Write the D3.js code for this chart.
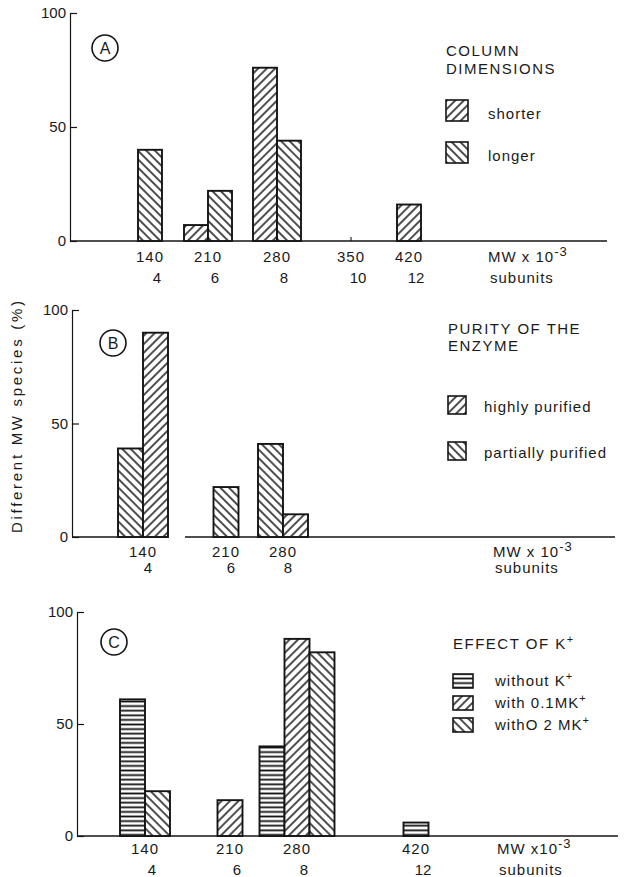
<!DOCTYPE html>
<html>
<head>
<meta charset="utf-8">
<script src="https://cdn.jsdelivr.net/npm/d3@7"></script>
<style>
  body { margin: 0; background: #fff; }
  svg text { font-family: "Liberation Sans", Arial, sans-serif; fill: #1a1a1a; }
</style>
</head>
<body>
<svg id="fig" width="631" height="877"></svg>
<script>
// ---- data ----
// panel A: column dimensions
const mwA = [140, 210, 280, 350, 420];
const subA = [4, 6, 8, 10, 12];
const shorterA = [0, 7, 76, 0, 16];
const longerA = [40, 22, 44, 0, 0];

// panel B: purity of the enzyme
const mwB = [140, 210, 280];
const subB = [4, 6, 8];
const partialB = [39, 22, 41];
const highlyB = [90, 0, 10];

// panel C: effect of K+
const mwC = [140, 210, 280, 420];
const subC = [4, 6, 8, 12];
const withoutK = [61, 0, 40, 6];
const with01K = [0, 16, 88, 0];
const with02K = [20, 0, 82, 0];

const yTicks = [0, 50, 100];

const svg = d3.select("#fig");
const ink = "#141414";

// hatch fills
const defs = svg.append("defs");
function hatch(id, angle, gap, w) {
    const p = defs.append("pattern")
        .attr("id", id)
        .attr("patternUnits", "userSpaceOnUse")
        .attr("width", gap).attr("height", gap)
        .attr("patternTransform", `rotate(${angle})`);
    p.append("rect").attr("width", gap).attr("height", gap).attr("fill", "#fff");
    p.append("line")
        .attr("x1", gap / 2).attr("y1", 0).attr("x2", gap / 2).attr("y2", gap)
        .attr("stroke", ink).attr("stroke-width", w);
}
hatch("fwd", 45, 6, 1.5);     // "////"
hatch("back", -45, 6, 1.5);   // "\\\\"
hatch("horiz", 90, 4.6, 1.8); // "===="

/**
 * Draws one panel: axes, grouped hatched bars, labels and legend
 * @param {object} cfg panel settings + series
 */
function drawPanel(cfg) {
    const y = d3.scaleLinear().domain([0, 100]).range([cfg.y0, cfg.y100]);
    // hand drawn axis, categories are not evenly spaced
    const x = d3.scaleLinear().domain(cfg.mw).range(cfg.xs);
    const g = svg.append("g");

    // y axis, ticks point inward
    g.append("g")
        .attr("transform", `translate(${cfg.ax},0)`)
        .call(d3.axisLeft(y).tickValues(yTicks).tickSizeInner(-7).tickSizeOuter(0).tickPadding(4))
        .call(a => a.select(".domain").attr("stroke", ink).attr("stroke-width", 1.2))
        .call(a => a.selectAll(".tick line").attr("stroke", ink).attr("stroke-width", 1.2))
        .call(a => a.selectAll("text").attr("font-size", 15).attr("fill", ink).attr("font-family", "Liberation Sans"));

    // x axis baseline (with a break for panel B)
    cfg.baseline.forEach(seg => {
        g.append("line")
            .attr("x1", seg[0]).attr("x2", seg[1])
            .attr("y1", cfg.y0).attr("y2", cfg.y0)
            .attr("stroke", ink).attr("stroke-width", 1.3);
    });

    // small ticks on baseline
    g.selectAll(".xt").data(cfg.mw).join("line")
        .attr("x1", d => x(d)).attr("x2", d => x(d))
        .attr("y1", cfg.y0).attr("y2", cfg.y0 - 4)
        .attr("stroke", ink).attr("stroke-width", 1.1);

    // bars: only the present series are packed side by side, centered on the category
    cfg.mw.forEach((mw, i) => {
        const present = cfg.series.filter(s => s.values[i] > 0);
        const left = x(mw) - present.length * cfg.bw / 2;
        present.forEach((s, j) => {
            g.append("rect")
                .attr("x", left + j * cfg.bw)
                .attr("y", y(s.values[i]))
                .attr("width", cfg.bw)
                .attr("height", y(0) - y(s.values[i]))
                .attr("fill", `url(#${s.fill})`)
                .attr("stroke", ink).attr("stroke-width", 1.9);
        });
    });

    // tick labels, two rows (MW and subunits)
    g.selectAll(".mwl").data(cfg.mw).join("text")
        .attr("x", d => x(d)).attr("y", cfg.y0 + cfg.row1)
        .attr("text-anchor", "middle").attr("font-size", 15).attr("letter-spacing", 1)
        .text(d => d);
    g.selectAll(".sul").data(cfg.sub).join("text")
        .attr("x", (d, i) => x(cfg.mw[i]) + cfg.subShift).attr("y", cfg.y0 + cfg.row2)
        .attr("text-anchor", "middle").attr("font-size", 15)
        .text(d => d);

    const mwLab = g.append("text")
        .attr("x", cfg.unitX).attr("y", cfg.y0 + cfg.row1)
        .attr("font-size", 15).attr("letter-spacing", 1);
    mwLab.append("tspan").text(cfg.mwText);
    mwLab.append("tspan").attr("dy", -6).attr("font-size", 13).text("-3");
    g.append("text")
        .attr("x", cfg.unitX + 2).attr("y", cfg.y0 + cfg.row2)
        .attr("font-size", 15).attr("letter-spacing", 1)
        .text("subunits");

    // circled panel letter
    g.append("circle")
        .attr("cx", cfg.letter[0]).attr("cy", cfg.letter[1]).attr("r", 13)
        .attr("fill", "none").attr("stroke", ink).attr("stroke-width", 1.6);
    g.append("text")
        .attr("x", cfg.letter[0]).attr("y", cfg.letter[1] + 6)
        .attr("text-anchor", "middle").attr("font-size", 16)
        .text(cfg.name);

    // legend
    cfg.title.forEach((t, k) => {
        const tt = g.append("text")
            .attr("x", cfg.legX).attr("y", cfg.legY + k * cfg.titleGap)
            .attr("font-size", 15).attr("letter-spacing", 1.5);
        tt.append("tspan").text(t);
        if (cfg.titleSup && k === cfg.title.length - 1) {
            tt.append("tspan").attr("dy", -6).attr("font-size", 11).text(cfg.titleSup);
        }
    });
    cfg.legend.forEach((s, k) => {
        const yy = cfg.itemY + k * cfg.itemGap;
        g.append("rect")
            .attr("x", cfg.legX).attr("y", yy - cfg.sw[1])
            .attr("width", cfg.sw[0]).attr("height", cfg.sw[1])
            .attr("fill", `url(#${s.fill})`)
            .attr("stroke", ink).attr("stroke-width", 1.6);
        const t = g.append("text")
            .attr("x", cfg.legX + cfg.textDx).attr("y", yy - 2)
            .attr("font-size", 15).attr("letter-spacing", 1);
        t.append("tspan").text(s.label);
        if (s.sup) t.append("tspan").attr("dy", -6).attr("font-size", 11).text(s.sup);
    });
}

const serShorter = { label: "shorter", fill: "fwd", values: shorterA };
const serLonger = { label: "longer", fill: "back", values: longerA };
drawPanel({
    name: "A", mw: mwA, sub: subA, xs: [150, 208, 277, 351, 409],
    y0: 241, y100: 13, ax: 70, bw: 24,
    baseline: [[70, 607]],
    series: [serShorter, serLonger],
    row1: 21, row2: 42, subShift: 7, unitX: 488, mwText: "MW x 10",
    letter: [105, 48],
    title: ["COLUMN", "DIMENSIONS"], legX: 446, legY: 56, titleGap: 18,
    legend: [serShorter, serLonger], itemY: 121, itemGap: 42, sw: [22, 21], textDx: 42
});

const serHighly = { label: "highly purified", fill: "fwd", values: highlyB };
const serPartial = { label: "partially purified", fill: "back", values: partialB };
drawPanel({
    name: "B", mw: mwB, sub: subB, xs: [143, 226, 283],
    y0: 537, y100: 310, ax: 72, bw: 25,
    baseline: [[72, 168], [185, 615]],
    series: [serPartial, serHighly],
    row1: 20, row2: 36, subShift: 5, unitX: 493, mwText: "MW x 10",
    letter: [113, 343],
    title: ["PURITY OF THE", "ENZYME"], legX: 448, legY: 334, titleGap: 17,
    legend: [serHighly, serPartial], itemY: 414, itemGap: 46, sw: [18, 18], textDx: 36
});

const serWithout = { label: "without  K", sup: "+", fill: "horiz", values: withoutK };
const ser01 = { label: "with 0.1MK", sup: "+", fill: "fwd", values: with01K };
const ser02 = { label: "withO 2 MK", sup: "+", fill: "back", values: with02K };
drawPanel({
    name: "C", mw: mwC, sub: subC, xs: [145, 230, 297, 416],
    y0: 836, y100: 612, ax: 77, bw: 25,
    baseline: [[77, 618]],
    series: [serWithout, ser01, ser02],
    row1: 18, row2: 39, subShift: 7, unitX: 497, mwText: "MW x10",
    letter: [114, 642],
    title: ["EFFECT OF K"], titleSup: "+", legX: 453, legY: 649, titleGap: 18,
    legend: [serWithout, ser01, ser02], itemY: 688, itemGap: 22, sw: [20, 14], textDx: 42
});

// shared y axis title
svg.append("text")
    .attr("transform", "translate(22,417) rotate(-90)")
    .attr("text-anchor", "middle")
    .attr("font-size", 15)
    .attr("textLength", 232).attr("lengthAdjust", "spacing")
    .text("Different  MW  species  (%)");
</script>
</body>
</html>
